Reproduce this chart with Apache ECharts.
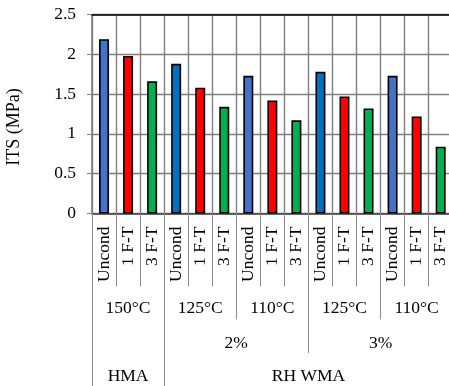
<!DOCTYPE html>
<html><head><meta charset="utf-8">
<script src="https://cdn.jsdelivr.net/npm/echarts@6/dist/echarts.min.js"></script>
<style>html,body{margin:0;padding:0;background:#fff}#c{width:449px;height:386px}</style>
</head><body><div id="c"></div>
<script>
// ---- data ----
const conditions = ['Uncond','1 F-T','3 F-T','Uncond','1 F-T','3 F-T','Uncond','1 F-T','3 F-T','Uncond','1 F-T','3 F-T','Uncond','1 F-T','3 F-T'];
const itsValues = [2.19, 1.98, 1.66, 1.88, 1.58, 1.34, 1.73, 1.42, 1.17, 1.78, 1.47, 1.32, 1.73, 1.22, 0.84];
const temperatures = ['150°C','125°C','110°C','125°C','110°C'];
const temperatureSpans = [3,3,3,3,3];
const additives = ['', '2%', '3%'];
const additiveSpans = [3,6,6];
const mixes = ['HMA','RH WMA'];
const mixSpans = [3,12];
const yAxisName = 'ITS (MPa)';

// ---- styles ----
const FONT = 'Liberation Serif';
const blueA = '#4472C4', blueB = '#0070C0', red = '#FF0000', green = '#00B050';
const gridColor = '#7f7f7f';

function level(labels, spans){
  const bounds=[0], centers=[]; let s=0;
  spans.forEach(n=>{centers.push(s+n/2); s+=n; bounds.push(s);});
  return {bounds, centers, labels};
}
const tempLv = level(temperatures, temperatureSpans);
const addLv = level(additives, additiveSpans);
const mixLv = level(mixes, mixSpans);
const total = conditions.length;

function barColor(i){
  const k = i % 3;
  if (k === 1) return red;
  if (k === 2) return green;
  return (Math.floor(i/3) % 2 === 0) ? blueA : blueB;
}

function levelAxis(lv, tickLen, labelMargin){
  return {
    type:'value', min:0, max:total, position:'bottom', offset:0, gridIndex:0,
    axisLine:{show:false}, splitLine:{show:false},
    axisTick:{show:true, inside:false, length:tickLen, customValues: lv.bounds, lineStyle:{color:'#8c8c8c', width:1}},
    axisLabel:{show:true, customValues: lv.centers, margin:labelMargin,
      formatter:(v)=>{const i=lv.centers.findIndex(c=>Math.abs(c-v)<1e-6); return i>=0?lv.labels[i]:'';},
      fontFamily:FONT, fontSize:17.5, color:'#000'}
  };
}

const chart = echarts.init(document.getElementById('c'), null, {renderer:'canvas'});
chart.setOption({
  animation:false,
  backgroundColor:'#fff',
  grid:{left:92, right:-3.7, top:14.5, bottom:172.5, containLabel:false, outerBoundsMode:'none'},
  xAxis:[
    {type:'category', data:conditions, position:'bottom', boundaryGap:true,
     axisLine:{show:true, lineStyle:{color:'#404040', width:1.5}},
     axisTick:{show:true, interval:0, length:73, lineStyle:{color:'#8c8c8c', width:1}},
     splitLine:{show:true, interval:0, lineStyle:{color:gridColor, width:1.4}},
     axisLabel:{interval:0, rotate:90, margin:13, fontFamily:FONT, fontSize:17.5, color:'#000'}},
    levelAxis(tempLv, 106, 86),
    levelAxis(addLv, 139.5, 120.5),
    levelAxis(mixLv, 173, 153.5),
    {type:'category', data:conditions, position:'top', boundaryGap:true,
     axisLine:{show:true, lineStyle:{color:'#000', width:1.6}},
     axisTick:{show:false}, axisLabel:{show:false}, splitLine:{show:false}}
  ],
  yAxis:{type:'value', min:0, max:2.5, interval:0.5,
    axisLine:{show:true, lineStyle:{color:'#7f7f7f', width:1.6}},
    axisTick:{show:true, length:5, lineStyle:{color:'#7f7f7f'}},
    splitLine:{show:true, lineStyle:{color:gridColor, width:1.4}},
    axisLabel:{margin:16, fontFamily:FONT, fontSize:17.5, color:'#000'}},
  graphic:[{type:'text', x:14, y:127, rotation:Math.PI/2,
    style:{text:yAxisName, fontFamily:FONT, fontSize:18, fill:'#000', align:'center', verticalAlign:'middle'}}],
  series:[{type:'bar', xAxisIndex:0, yAxisIndex:0, data:itsValues, barWidth:10,
    itemStyle:{color:(p)=>barColor(p.dataIndex), borderColor:'#000', borderWidth:1.6}}]
});
</script></body></html>
